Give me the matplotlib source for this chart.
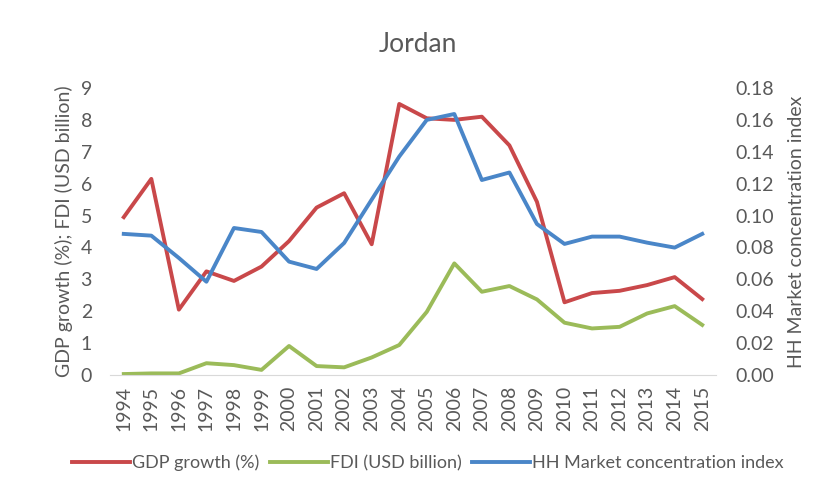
import matplotlib
matplotlib.use("Agg")
import matplotlib.pyplot as plt

plt.rcParams['font.family'] = ['Lato', 'DejaVu Sans']

years = [str(y) for y in range(1994, 2016)]
gdp_growth = [4.95, 6.15, 2.05, 3.25, 2.95, 3.4, 4.2, 5.25, 5.7, 4.1, 8.5,
              8.05, 8.0, 8.1, 7.2, 5.43, 2.28, 2.57, 2.64, 2.82, 3.07, 2.38]
fdi = [0.03, 0.05, 0.05, 0.37, 0.31, 0.16, 0.91, 0.28, 0.24, 0.55, 0.94,
       1.98, 3.5, 2.61, 2.79, 2.37, 1.64, 1.46, 1.51, 1.93, 2.16, 1.57]
hh_index = [0.0885, 0.0874, 0.0734, 0.0585, 0.0922, 0.0897, 0.0711, 0.0665,
            0.0828, 0.110, 0.137, 0.160, 0.1637, 0.1223, 0.127, 0.0947,
            0.0822, 0.0868, 0.0868, 0.083, 0.0799, 0.0885]

red = "#C9484A"
green = "#9BBB59"
blue = "#4A86C8"
grey = "#595959"

fig = plt.figure(figsize=(8.21, 4.94), dpi=100)
ax = fig.add_axes([110 / 821, 1 - 375 / 494, 606 / 821, 287 / 494])
ax2 = ax.twinx()

x = list(range(len(years)))
l1, = ax.plot(x, gdp_growth, color=red, lw=2.8, label="GDP growth (%)", solid_joinstyle="round")
l2, = ax.plot(x, fdi, color=green, lw=2.8, label="FDI (USD billion)", solid_joinstyle="round")
l3, = ax2.plot(x, hh_index, color=blue, lw=2.8, label="HH Market concentration index", solid_joinstyle="round")

ax.set_xlim(-0.5, len(years) - 0.5)
ax.set_ylim(0, 9)
ax2.set_ylim(0, 0.18)
ax.set_yticks(range(0, 10))
ax2.set_yticks([i * 0.02 for i in range(10)])
ax2.set_yticklabels([f"{i * 0.02:.2f}" for i in range(10)])
ax.set_xticks(x)
ax.set_xticklabels(years, rotation=90)

for a in (ax, ax2):
    for s in a.spines.values():
        s.set_visible(False)
    a.tick_params(length=0, colors=grey, labelsize=14)
ax.spines["bottom"].set_visible(True)
ax.spines["bottom"].set_color("#D9D9D9")
ax.tick_params(axis="y", pad=13)
ax2.tick_params(axis="y", pad=14)
ax.tick_params(axis="x", pad=8)

ax.set_ylabel("GDP growth (%); FDI (USD billion)", color=grey, fontsize=14)
ax2.set_ylabel("HH Market concentration index", color=grey, fontsize=14)
ax.yaxis.set_label_coords((64 - 110) / 606, 0.5)
ax2.yaxis.set_label_coords((796 - 110) / 606, 0.5)
ax.yaxis.label.set_va("center")
ax2.yaxis.label.set_va("center")
fig.text(418 / 821, 1 - 45 / 494, "Jordan", ha="center", va="center", fontsize=19, color=grey)

fig.legend(handles=[l1, l2, l3], loc="center", bbox_to_anchor=(428 / 821, 1 - 463 / 494),
           ncol=3, frameon=False, fontsize=13, labelcolor=grey, handlelength=3.2,
           columnspacing=0.6, handletextpad=0.1)

fig.savefig("out.png", dpi=100)
